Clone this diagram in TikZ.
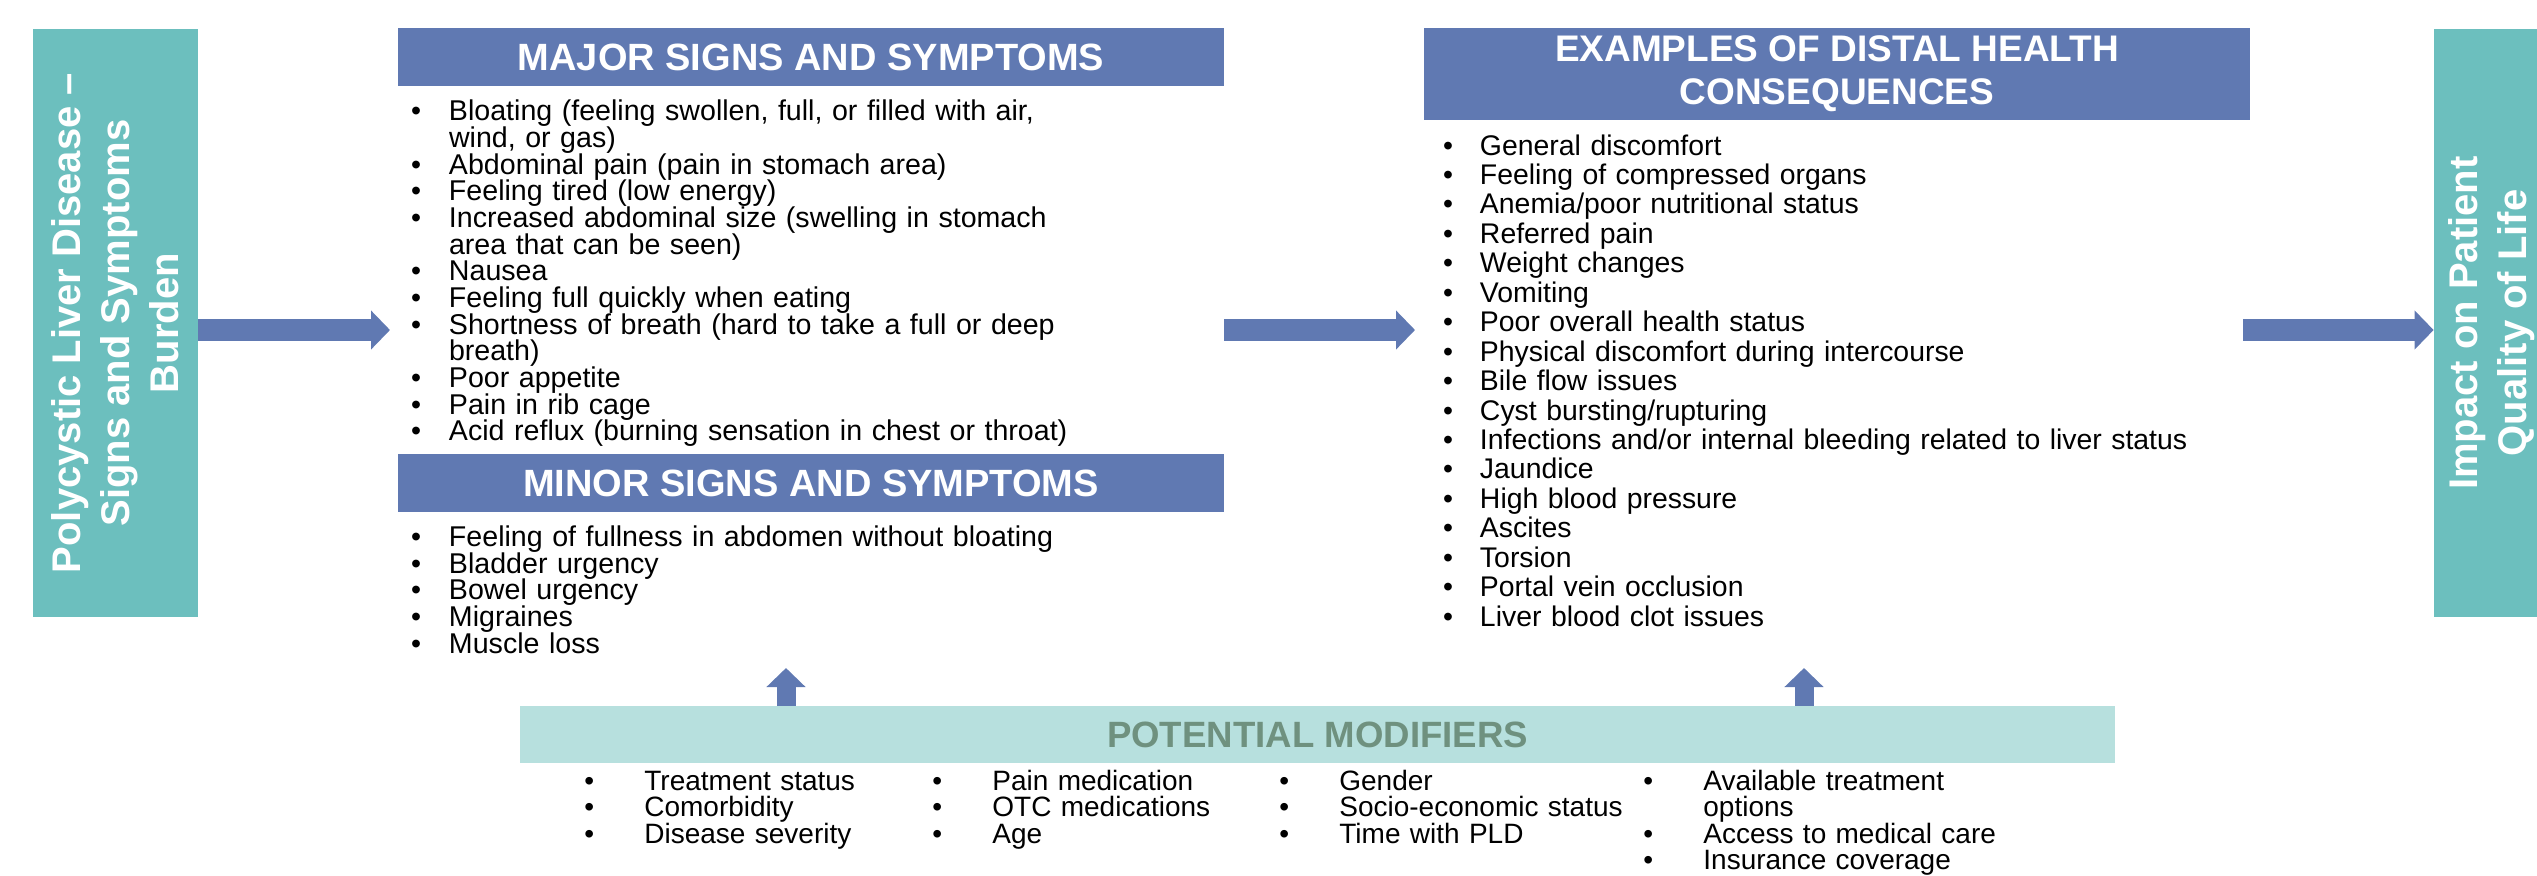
\documentclass[tikz,border=0pt]{standalone}
\usepackage{fontspec}
\setmainfont{Liberation Sans}
\usetikzlibrary{positioning,arrows.meta}

\definecolor{tealbox}{HTML}{6CBFBE}
\definecolor{headblue}{HTML}{6079B2}
\definecolor{modfill}{HTML}{B7E0DE}
\definecolor{modtext}{HTML}{6F917F}

% one bulleted item, wrapped lines hang under the text
\newcommand{\itm}[1][19pt]{\par\lineskiplimit=-100pt\relax\hangindent=#1\relax\hangafter=1\relax\noindent\hbox to #1{\textbullet\hfil}\ignorespaces}

\begin{document}
\begin{tikzpicture}[
    x=0.5pt, y=-0.5pt, % one unit is one pixel of the layout
    sidebox/.style={rectangle,fill=tealbox,inner sep=0pt},
    sidetext/.style={rotate=90,text=white,align=center,inner sep=0pt,font=\bfseries\fontsize{20pt}{24.5pt}\selectfont},
    sechead/.style={rectangle,fill=headblue,text=white,inner sep=0pt,minimum width=413pt,align=center,font=\bfseries\fontsize{#1}{21.5pt}\selectfont},
    symlist/.style 2 args={inner sep=0pt,anchor=north west,align=left,font=\fontsize{#1}{#2}\selectfont},
    fatarrow/.style={draw=headblue,line width=11pt,-{Triangle[width=19pt,length=9.5pt]}},
    uparrow/.style={draw=headblue,line width=9.5pt,-{Triangle[width=19pt,length=9.5pt]}}
]
    \useasboundingbox (0,0) rectangle (2537,875);

    % side boxes
    \node[sidebox,minimum width=82.5pt,minimum height=294pt] (leftbox) at (115.5,323) {};
    \node[sidetext] (lefttext) at (leftbox.center) {Polycystic Liver Disease –\\Signs and Symptoms\\Burden};
    \node[sidebox,minimum width=51.5pt,minimum height=294pt] (rightbox) at (2485.5,323) {};
    \node[sidetext] (righttext) at (2492,323) {Impact on Patient\\Quality of Life};

    % headers
    \node[sechead=19pt,minimum height=29pt] (major) at (811,57) {MAJOR SIGNS AND SYMPTOMS};
    \node[sechead=19pt,minimum height=29pt] (minor) at (811,483) {MINOR SIGNS AND SYMPTOMS};
    \node[sechead=18.5pt,minimum height=46pt] (distal) at (1837,74) {EXAMPLES OF DISTAL HEALTH\\CONSEQUENCES};

    % lists under the headers
    \node[symlist={14.3pt}{13.33pt},text width=340pt] (majorlist) [below right=3.7pt and 6.5pt of major.south west] {%
    \itm Bloating (feeling swollen, full, or filled with air,\newline wind, or gas)
    \itm Abdominal pain (pain in stomach area)
    \itm Feeling tired (low energy)
    \itm Increased abdominal size (swelling in stomach\newline area that can be seen)
    \itm Nausea
    \itm Feeling full quickly when eating
    \itm Shortness of breath (hard to take a full or deep\newline breath)
    \itm Poor appetite
    \itm Pain in rib cage
    \itm Acid reflux (burning sensation in chest or throat)};
    \node[symlist={14.3pt}{13.33pt},text width=340pt] (minorlist) [below right=3.6pt and 6.5pt of minor.south west] {%
    \itm Feeling of fullness in abdomen without bloating
    \itm Bladder urgency
    \itm Bowel urgency
    \itm Migraines
    \itm Muscle loss};
    \node[symlist={14.2pt}{14.72pt},text width=385pt] (distallist) [below right=2.4pt and 9.5pt of distal.south west] {%
    \itm[18.5pt] General discomfort
    \itm[18.5pt] Feeling of compressed organs
    \itm[18.5pt] Anemia/poor nutritional status
    \itm[18.5pt] Referred pain
    \itm[18.5pt] Weight changes
    \itm[18.5pt] Vomiting
    \itm[18.5pt] Poor overall health status
    \itm[18.5pt] Physical discomfort during intercourse
    \itm[18.5pt] Bile flow issues
    \itm[18.5pt] Cyst bursting/rupturing
    \itm[18.5pt] Infections and/or internal bleeding related to liver status
    \itm[18.5pt] Jaundice
    \itm[18.5pt] High blood pressure
    \itm[18.5pt] Ascites
    \itm[18.5pt] Torsion
    \itm[18.5pt] Portal vein occlusion
    \itm[18.5pt] Liver blood clot issues};

    % modifiers
    \node[rectangle,fill=modfill,minimum width=797.5pt,minimum height=28.5pt,inner sep=0pt,text=modtext,font=\bfseries\fontsize{18.3pt}{20pt}\selectfont] (modbox) at (1317.5,734.5) {POTENTIAL MODIFIERS};
    \node[symlist={14pt}{13.1pt},text width=220pt] (moda) at (584,764) {%
    \itm[30pt] Treatment status
    \itm[30pt] Comorbidity
    \itm[30pt] Disease severity};
    \node[symlist={14pt}{13.1pt},text width=220pt] (modb) at (932,764) {%
    \itm[30pt] Pain medication
    \itm[30pt] OTC medications
    \itm[30pt] Age};
    \node[symlist={14pt}{13.1pt},text width=220pt] (modc) at (1279,764) {%
    \itm[30pt] Gender
    \itm[30pt] Socio-economic status
    \itm[30pt] Time with PLD};
    \node[symlist={14pt}{13.1pt},text width=220pt] (modd) at (1643,764) {%
    \itm[30pt] Available treatment\newline options
    \itm[30pt] Access to medical care
    \itm[30pt] Insurance coverage};

    % block arrows
    \coordinate (tipl) at (390,330);
    \coordinate (tipm) at (1415,330);
    \coordinate (tailr) at (2243,330);
    \coordinate (upl) at (786,668);
    \coordinate (upr) at (1804,668);
    \draw[fatarrow] (leftbox.east |- tipl) -- (tipl);
    \draw[fatarrow] (major.east |- tipm) -- (tipm);
    \draw[fatarrow] (tailr) -- (rightbox.west |- tailr);
    \draw[uparrow] (modbox.north -| upl) -- (upl);
    \draw[uparrow] (modbox.north -| upr) -- (upr);
\end{tikzpicture}
\end{document}
